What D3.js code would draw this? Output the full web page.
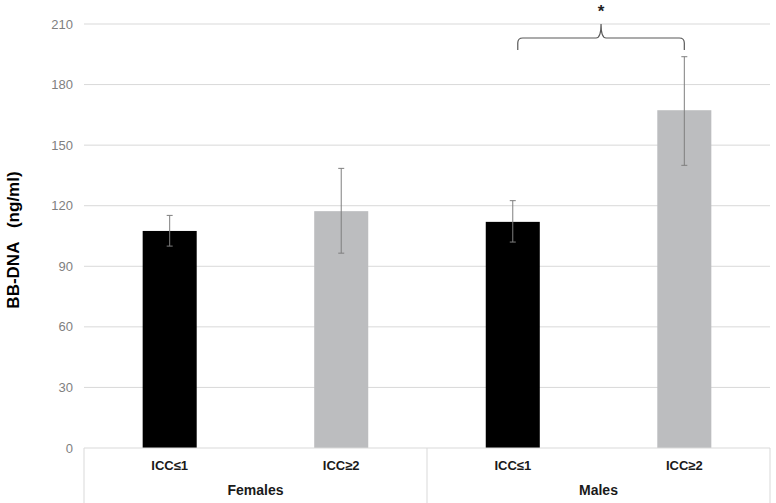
<!DOCTYPE html>
<html>
<head>
<meta charset="utf-8">
<script src="https://cdn.jsdelivr.net/npm/d3@7"></script>
<style>
  body { margin: 0; background: #fff; }
  svg { display: block; font-family: "Liberation Sans", Arial, sans-serif; }
</style>
</head>
<body>
<svg id="chart" width="776" height="503"></svg>
<script>
// data
const groups = ["Females", "Males"];
const subgroups = ["ICC≤1", "ICC≥2"];
const means = [107.5, 117.3, 112, 167.3];
const errLow = [100, 96.5, 102, 140];
const errHigh = [115.2, 138.5, 122.5, 193.8];
const yTicks = [0, 30, 60, 90, 120, 150, 180, 210];
const barColors = ["#000000", "#bcbdbf"];

const width = 776, height = 503;
const margin = {top: 24, right: 6, bottom: 55, left: 84};

const rows = [];
groups.forEach((g, gi) => subgroups.forEach((s, si) => {
  const i = gi * subgroups.length + si;
  rows.push({key: g + "|" + s, group: g, sub: s, si: si, value: means[i], lo: errLow[i], hi: errHigh[i]});
}));

const svg = d3.select("#chart");

const x = d3.scaleBand()
  .domain(rows.map(d => d.key))
  .range([margin.left, width - margin.right])
  .paddingInner(0.685)
  .paddingOuter(0.342);

const y = d3.scaleLinear()
  .domain([0, 210])
  .range([height - margin.bottom, margin.top]);

// gridlines
svg.append("g")
  .selectAll("line")
  .data(yTicks.filter(t => t > 0))
  .enter().append("line")
  .attr("x1", margin.left).attr("x2", width - margin.right)
  .attr("y1", d => y(d)).attr("y2", d => y(d))
  .attr("stroke", "#d9d9d9").attr("stroke-width", 1);

// y tick labels
svg.append("g")
  .selectAll("text")
  .data(yTicks)
  .enter().append("text")
  .attr("x", margin.left - 11)
  .attr("y", d => y(d))
  .attr("dy", "0.35em")
  .attr("text-anchor", "end")
  .attr("font-size", 13)
  .attr("fill", "#7f7f7f")
  .text(d => d);

// bars
svg.append("g")
  .selectAll("rect")
  .data(rows)
  .enter().append("rect")
  .attr("x", d => x(d.key))
  .attr("width", x.bandwidth())
  .attr("y", d => y(d.value))
  .attr("height", d => y(0) - y(d.value))
  .attr("fill", d => barColors[d.si]);

// error bars
const eb = svg.append("g").attr("stroke", "#7f7f7f").attr("stroke-width", 1);
rows.forEach(d => {
  const cx = x(d.key) + x.bandwidth() / 2;
  eb.append("line").attr("x1", cx).attr("x2", cx).attr("y1", y(d.lo)).attr("y2", y(d.hi));
  eb.append("line").attr("x1", cx - 3).attr("x2", cx + 3).attr("y1", y(d.lo)).attr("y2", y(d.lo));
  eb.append("line").attr("x1", cx - 3).attr("x2", cx + 3).attr("y1", y(d.hi)).attr("y2", y(d.hi));
});

// category axis with group boxes
const axisY = y(0);
const groupW = (width - margin.right - margin.left) / groups.length;
const ax = svg.append("g").attr("stroke", "#d9d9d9").attr("stroke-width", 1);
ax.append("line").attr("x1", margin.left).attr("x2", width - margin.right).attr("y1", axisY).attr("y2", axisY);
for (let i = 0; i <= groups.length; i++) {
  const gx = margin.left + i * groupW;
  ax.append("line").attr("x1", gx).attr("x2", gx).attr("y1", axisY).attr("y2", height);
}

svg.append("g")
  .selectAll("text")
  .data(rows)
  .enter().append("text")
  .attr("x", d => x(d.key) + x.bandwidth() / 2)
  .attr("y", axisY + 22)
  .attr("text-anchor", "middle")
  .attr("font-size", 13)
  .attr("font-weight", "bold")
  .attr("fill", "#1a1a1a")
  .text(d => d.sub);

svg.append("g")
  .selectAll("text")
  .data(groups)
  .enter().append("text")
  .attr("x", (d, i) => margin.left + (i + 0.5) * groupW)
  .attr("y", axisY + 47)
  .attr("text-anchor", "middle")
  .attr("font-size", 14)
  .attr("font-weight", "bold")
  .attr("fill", "#1a1a1a")
  .text(d => d);

// y-axis title
svg.append("text")
  .attr("transform", `translate(19,${(margin.top + axisY) / 2 + 4}) rotate(-90)`)
  .attr("text-anchor", "middle")
  .attr("font-size", 17)
  .attr("font-weight", "bold")
  .attr("fill", "#000")
  .attr("xml:space", "preserve")
  .text("BB-DNA   (ng/ml)");

// significance bracket between Males bars
const b1 = x(rows[2].key) + x.bandwidth() / 2 + 5;
const b2 = x(rows[3].key) + x.bandwidth() / 2;
const bm = (b1 + b2) / 2;
const yEnd = 50, yBar = 38, yPeak = 24, r = 5;
const path = d3.path();
path.moveTo(b1, yEnd);
path.lineTo(b1, yBar + r);
path.quadraticCurveTo(b1, yBar, b1 + r, yBar);
path.lineTo(bm - r, yBar);
path.quadraticCurveTo(bm, yBar, bm, yPeak);
path.quadraticCurveTo(bm, yBar, bm + r, yBar);
path.lineTo(b2 - r, yBar);
path.quadraticCurveTo(b2, yBar, b2, yBar + r);
path.lineTo(b2, yEnd);
svg.append("path")
  .attr("d", path.toString())
  .attr("fill", "none")
  .attr("stroke", "#595959")
  .attr("stroke-width", 1.2);

svg.append("text")
  .attr("x", bm)
  .attr("y", 17)
  .attr("text-anchor", "middle")
  .attr("font-size", 17)
  .attr("font-weight", "bold")
  .attr("fill", "#222")
  .text("*");
</script>
</body>
</html>
